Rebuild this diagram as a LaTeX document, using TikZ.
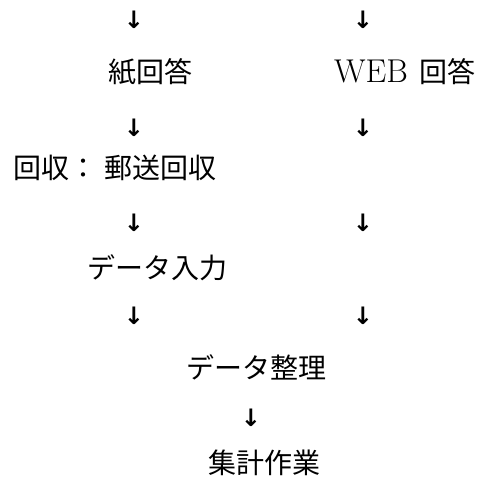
\documentclass[tikz,border=0pt]{standalone}
\usepackage{fontspec}
\newfontfamily\jp{Noto Sans CJK JP}
\newfontfamily\arr{DejaVu Sans}
\tikzset{
  lbl/.style={inner sep=0pt, font=\jp\fontsize{28pt}{30pt}\selectfont},
  dn/.style={inner sep=0pt, font=\arr\bfseries\fontsize{24pt}{26pt}\selectfont}
}
\begin{document}
\begin{tikzpicture}[x=1pt,y=1pt]
\useasboundingbox[fill=white] (0,0) rectangle (492,477);
% arrows row 1
\node[dn] (a1) at (134,457) {↓};
\node[dn] (b1) at (363,457) {↓};
\node[lbl] (paper) at (150,405) {紙回答};
\node[lbl] (web) at (405,405) {{\rmfamily\fontsize{33pt}{34pt}\selectfont WEB}\hspace{12pt}回答};
\node[dn] (a2) at (134,349) {↓};
\node[dn] (b2) at (363,349) {↓};
\node[lbl] (coll) at (115,309) {回収： 郵送回収};
\node[dn] (a3) at (134,254) {↓};
\node[dn] (b3) at (363,254) {↓};
\node[lbl] (input) at (157,209) {データ入力};
\node[dn] (a4) at (134,161) {↓};
\node[dn] (b4) at (363,161) {↓};
\node[lbl] (org) at (256,110) {データ整理};
\node[dn] (a5) at (251,59) {↓};
\node[lbl] (sum) at (264,14) {集計作業};
\end{tikzpicture}
\end{document}
